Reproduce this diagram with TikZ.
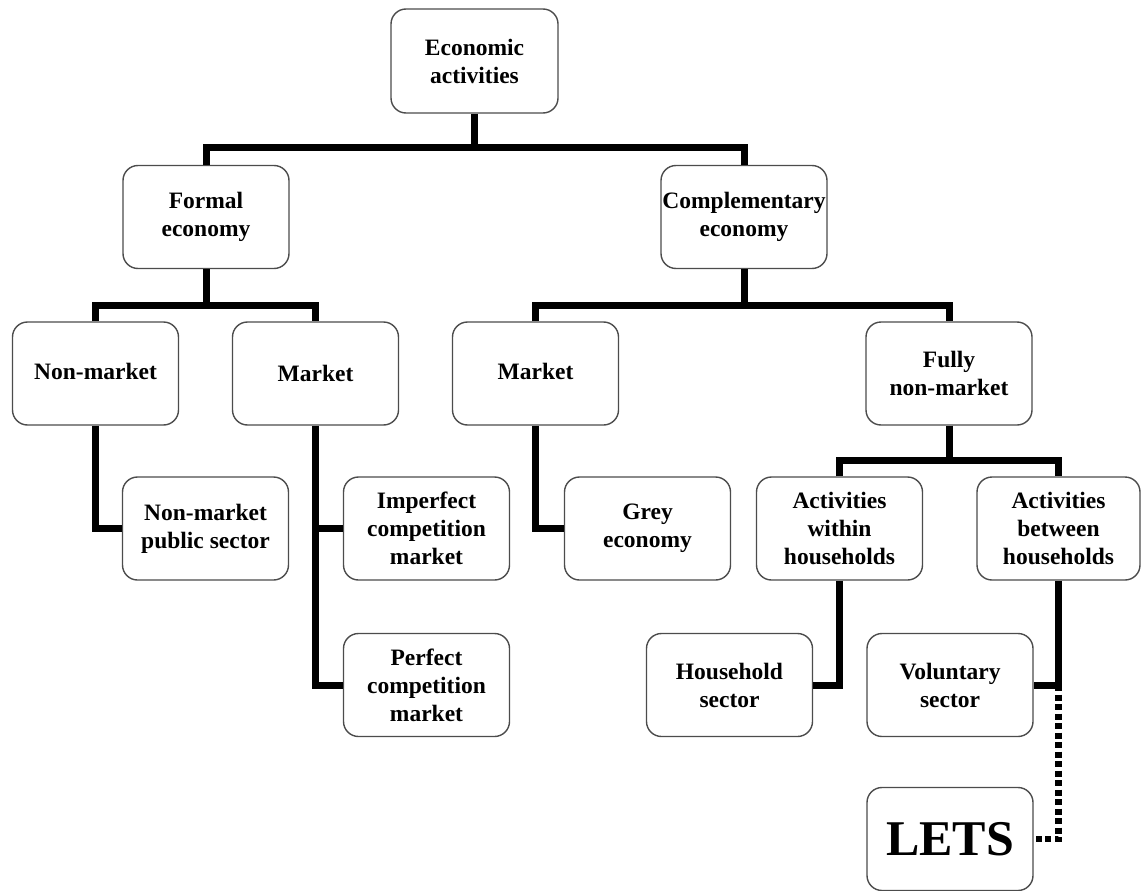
\documentclass[tikz,border=0pt]{standalone}
\usepackage{fontspec}
\setmainfont{Liberation Serif}
\begin{document}
\begin{tikzpicture}[x=1pt,y=-1pt,
  box/.style={draw=black!70, line width=1.4pt, fill=white, rounded corners=15pt,
    minimum width=166pt, minimum height=103pt, inner sep=0pt, align=center,
    font=\bfseries\fontsize{23.5}{28}\selectfont},
  conn/.style={line width=7pt, line join=miter, black},
  dotconn/.style={line width=6.5pt, dash pattern=on 6pt off 3.5pt, black}]
\useasboundingbox (0,0) rectangle (1141,891);
% nodes
\node[box, minimum width=167pt, minimum height=104pt] (econ) at (474.5,61) {Economic\\activities};
\node[box] (formal) at (206,217) {Formal\\economy};
\node[box] (comp) at (744,217) {Complementary\\economy};
\node[box] (nonmkt) at (95.5,373.5) {\raisebox{5pt}{Non-market}};
\node[box] (mkt1) at (315.5,373.5) {Market};
\node[box] (mkt2) at (535.5,373.5) {\raisebox{5pt}{Market}};
\node[box] (fully) at (949,373.5) {Fully\\non-market};
\node[box] (nmps) at (205.5,528.5) {Non-market\\public sector};
\node[box] (imperf) at (426.5,528.5) {Imperfect\\competition\\market};
\node[box] (grey) at (647.5,528.5) {Grey\\economy};
\node[box] (within) at (839.5,528.5) {Activities\\within\\households};
\node[box, minimum width=163pt] (between) at (1058.5,528.5) {Activities\\between\\households};
\node[box] (perf) at (426.5,685) {Perfect\\competition\\market};
\node[box] (hh) at (729.5,685) {Household\\sector};
\node[box] (vol) at (950,685) {Voluntary\\sector};
\node[box, font=\bfseries\fontsize{50}{56}\selectfont] (lets) at (950,839) {LETS};
% joints
\coordinate (j1) at (474.5,147);
\coordinate (j2) at (206,305);
\coordinate (j3) at (744,305);
\coordinate (j4) at (949,460);
% connectors
\draw[conn] (econ.south) -- (j1);
\draw[conn] (formal.north) |- (j1) -| (comp.north);
\draw[conn] (formal.south) -- (j2);
\draw[conn] (nonmkt.north) |- (j2) -| (mkt1.north);
\draw[conn] (comp.south) -- (j3);
\draw[conn] (mkt2.north) |- (j3) -| (fully.north);
\draw[conn] (nonmkt.south) |- (nmps.west);
\draw[conn] (mkt1.south) |- (perf.west);
\draw[conn] (imperf.west) -- (imperf.west -| mkt1.south);
\draw[conn] (mkt2.south) |- (grey.west);
\draw[conn] (fully.south) -- (j4);
\draw[conn] (within.north) |- (j4) -| (between.north);
\draw[conn] (within.south) |- (hh.east);
\draw[conn] (between.south) |- (vol.east);
\coordinate (j5) at (between.south |- vol.east);
\draw[dotconn] (j5) |- (lets.east);
\end{tikzpicture}
\end{document}
